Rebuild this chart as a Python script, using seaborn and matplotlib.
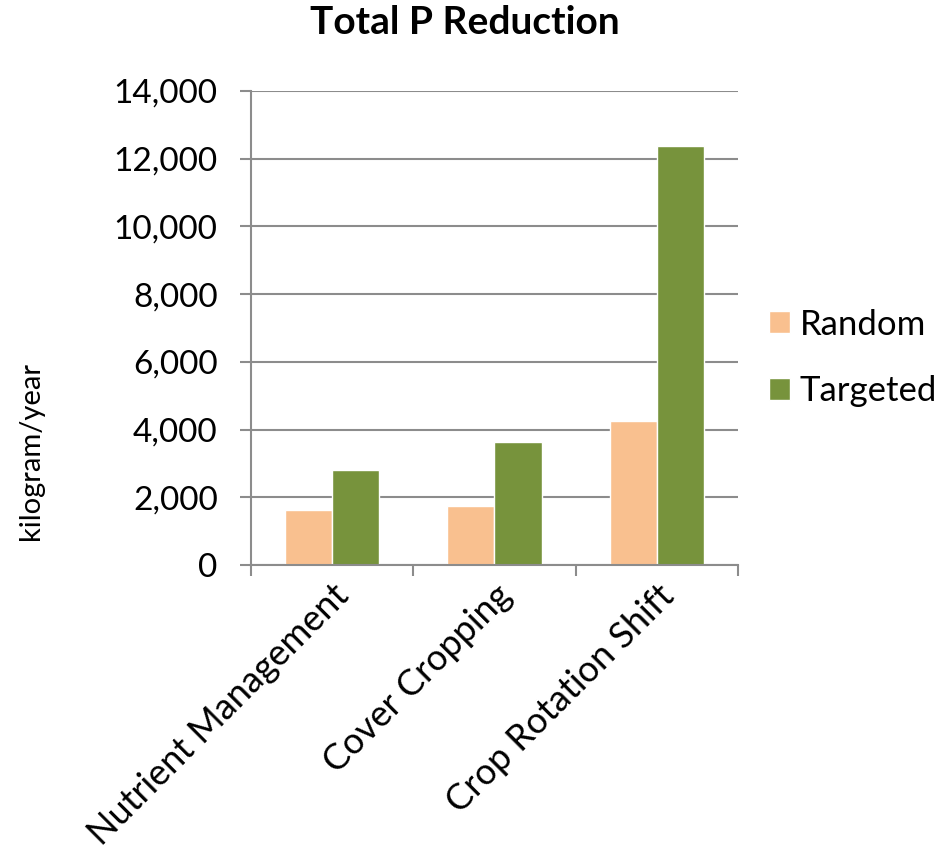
import seaborn as sns
import matplotlib.pyplot as plt
import matplotlib.ticker as mticker
import numpy as np
import pandas as pd

# data
practices = ['Nutrient Management', 'Cover Cropping', 'Crop Rotation Shift']
random_vals = [1620, 1750, 4250]
targeted_vals = [2800, 3620, 12380]
series = ['Random', 'Targeted']
colors = ['#F9C08F', '#77933C']

df = pd.DataFrame({
    'practice': practices * 2,
    'scenario': ['Random'] * 3 + ['Targeted'] * 3,
    'value': random_vals + targeted_vals,
})

sns.set_style('white')
plt.rcParams['font.family'] = ['Lato', 'DejaVu Sans']
plt.rcParams['text.color'] = 'black'
plt.rcParams['axes.labelcolor'] = 'black'
plt.rcParams['xtick.labelcolor'] = 'black'
plt.rcParams['ytick.labelcolor'] = 'black'

fig = plt.figure(figsize=(9.41, 8.52), dpi=100)
ax = fig.add_axes([251 / 941, 1 - 565 / 852, (738 - 251) / 941, (565 - 91) / 852])

sns.barplot(data=df, x='practice', y='value', hue='scenario', hue_order=series,
            palette=colors, width=0.58, gap=0, saturation=1, ax=ax, legend=True)

ax.set_ylim(0, 14000)
ax.set_xlim(-0.5, 2.5)
ax.yaxis.set_major_locator(mticker.MultipleLocator(2000))
ax.yaxis.set_major_formatter(mticker.StrMethodFormatter('{x:,.0f}'))
ax.grid(axis='y', color='#8c8c8c', linewidth=1.5)
ax.set_axisbelow(True)

for s in ['top', 'right']:
    ax.spines[s].set_visible(False)
for s in ['left', 'bottom']:
    ax.spines[s].set_color('#8c8c8c')
    ax.spines[s].set_linewidth(1.5)

ax.tick_params(axis='y', which='major', direction='out', length=8, width=1.5,
               color='#8c8c8c', labelsize=24, left=True, pad=16)
ax.set_xticks(np.arange(len(practices)))
ax.set_xticks([-0.5, 0.5, 1.5, 2.5], minor=True)
ax.tick_params(axis='x', which='major', length=0, labelsize=26, pad=10)
ax.tick_params(axis='x', which='minor', direction='out', length=8, width=1.5,
               color='#8c8c8c', bottom=True)
ax.set_xticklabels(practices, rotation=45, ha='right', rotation_mode='anchor')

ax.set_xlabel('')
ax.set_ylabel('kilogram/year', fontsize=21)
ax.yaxis.set_label_coords(-0.426, 0.24)
fig.text(465 / 941, 1 - 22 / 852, 'Total P Reduction', fontsize=28, fontweight='bold',
         ha='center', va='center')

leg = ax.legend(loc='center left', bbox_to_anchor=(1.063, 0.437), frameon=False,
                fontsize=25, handlelength=0.6, handleheight=0.6, handletextpad=0.3,
                labelspacing=1.0, borderpad=0, borderaxespad=0)

fig.savefig('out.png', dpi=100)
